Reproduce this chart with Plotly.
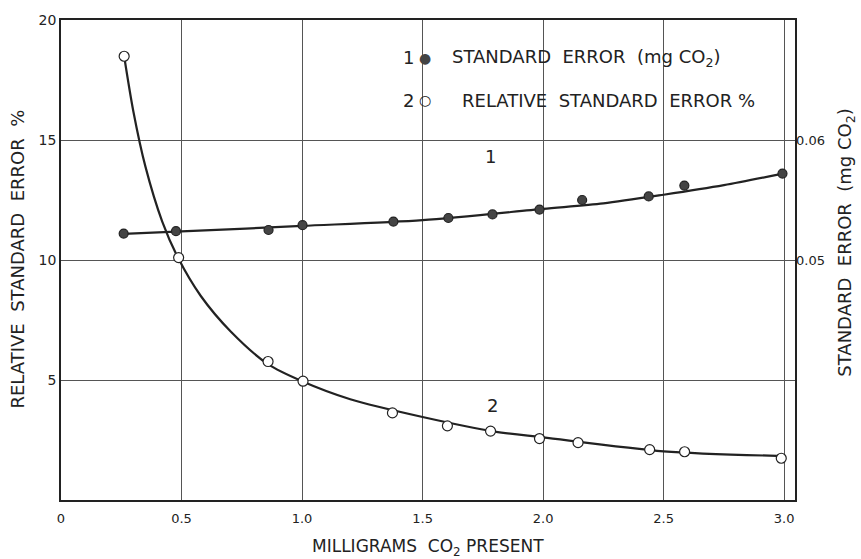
import plotly.graph_objects as go

# ---- data ----
# Curve 1: standard error (mg CO2), right axis
mg_se = [0.260, 0.477, 0.861, 1.002, 1.379, 1.607, 1.790, 1.985, 2.162, 2.438, 2.586, 2.993]
se_mg = [0.0522, 0.0524, 0.0525, 0.0529, 0.0532, 0.0535, 0.0538, 0.0542, 0.0550, 0.0553, 0.0562, 0.0572]
se_fit_x = [0.26, 0.5, 1.0, 1.5, 2.0, 2.25, 2.5, 2.75, 3.0]
se_fit_y = [0.05218, 0.05238, 0.05284, 0.05332, 0.05426, 0.05472, 0.05544, 0.05624, 0.05722]

# Curve 2: relative standard error %, left axis
mg_rse = [0.262, 0.488, 0.859, 1.004, 1.375, 1.603, 1.782, 1.985, 2.145, 2.442, 2.587, 2.988]
rse_pct = [18.49, 10.10, 5.77, 4.95, 3.63, 3.09, 2.87, 2.56, 2.39, 2.10, 2.01, 1.74]
rse_fit_x = [0.262, 0.30, 0.35, 0.42, 0.485, 0.58, 0.705, 0.86, 1.0, 1.2, 1.5, 1.8, 2.0, 2.5, 2.97]
rse_fit_y = [18.49, 16.2, 13.9, 11.6, 10.1, 8.5, 7.01, 5.65, 4.95, 4.2, 3.46, 2.85, 2.61, 2.03, 1.84]

x_ticks = [0, 0.5, 1.0, 1.5, 2.0, 2.5, 3.0]
x_ticktext = ["0", "0.5", "1.0", "1.5", "2.0", "2.5", "3.0"]
y_ticks = [5, 10, 15, 20]
y2_ticks = [0.05, 0.06]

INK = "#222222"
GRID = "#555555"
FONT = "DejaVu Sans"

fig = go.Figure()

fig.add_trace(go.Scatter(x=se_fit_x, y=se_fit_y, yaxis="y2", mode="lines",
                         line=dict(color=INK, width=2.2, shape="spline", smoothing=0.8),
                         showlegend=False, hoverinfo="skip"))
fig.add_trace(go.Scatter(x=mg_se, y=se_mg, yaxis="y2", mode="markers",
                         marker=dict(color="#444444", size=9, line=dict(color=INK, width=1.2)),
                         name="STANDARD ERROR (mg CO2)", showlegend=False))
fig.add_trace(go.Scatter(x=rse_fit_x, y=rse_fit_y, mode="lines",
                         line=dict(color=INK, width=2.2, shape="spline", smoothing=0.8),
                         showlegend=False, hoverinfo="skip"))
fig.add_trace(go.Scatter(x=mg_rse, y=rse_pct, mode="markers",
                         marker=dict(color="white", size=10, line=dict(color=INK, width=1.2)),
                         name="RELATIVE STANDARD ERROR %", showlegend=False))


def px(xp):
    return (xp - 61) / 734


def py(yp):
    return (500 - yp) / 485


fig.update_layout(
    width=861, height=559,
    margin=dict(l=61, r=66, t=15, b=59),
    paper_bgcolor="white", plot_bgcolor="white",
    font=dict(family=FONT, color=INK, size=13),
    xaxis=dict(range=[0, 3.045], tickvals=x_ticks, ticktext=x_ticktext,
               showgrid=True, gridcolor=GRID, gridwidth=1,
               showline=True, linecolor=INK, linewidth=1.5, mirror=True,
               ticks="", zeroline=False, tickfont=dict(size=13), ticklabelstandoff=6),
    yaxis=dict(range=[0, 20], tickvals=y_ticks,
               showgrid=True, gridcolor=GRID, gridwidth=1,
               showline=True, linecolor=INK, linewidth=1.5, mirror=True,
               ticks="", zeroline=False, tickfont=dict(size=14)),
    yaxis2=dict(range=[0.03, 0.07], tickvals=y2_ticks, tickformat=".2f",
                overlaying="y", side="right", showgrid=False, zeroline=False,
                showline=False, ticks="", tickfont=dict(size=13)),
    shapes=[dict(type="rect", xref="paper", yref="paper",
                 x0=px(380), x1=px(781), y0=py(124), y1=py(26),
                 fillcolor="white", line=dict(width=0), layer="between")],
    annotations=[
        dict(text="1", xref="paper", yref="paper", x=px(408), y=py(53),
             xanchor="center", yanchor="middle", showarrow=False, font=dict(size=18)),
        dict(text="\u25CF", xref="paper", yref="paper", x=px(425), y=py(53),
             xanchor="center", yanchor="middle", showarrow=False, font=dict(size=14, color="#444444")),
        dict(text="STANDARD  ERROR  (mg CO<sub>2</sub>)", xref="paper", yref="paper",
             x=px(450), y=py(53), xanchor="left", yanchor="middle",
             showarrow=False, font=dict(size=18)),
        dict(text="2", xref="paper", yref="paper", x=px(408), y=py(96),
             xanchor="center", yanchor="middle", showarrow=False, font=dict(size=18)),
        dict(text="\u25CB", xref="paper", yref="paper", x=px(425), y=py(96),
             xanchor="center", yanchor="middle", showarrow=False, font=dict(size=14)),
        dict(text="RELATIVE  STANDARD  ERROR %", xref="paper", yref="paper",
             x=px(460), y=py(96), xanchor="left", yanchor="middle",
             showarrow=False, font=dict(size=18)),
        dict(text="1", x=1.78, y=14.3, xref="x", yref="y", showarrow=False, font=dict(size=18)),
        dict(text="2", x=1.79, y=3.92, xref="x", yref="y", showarrow=False, font=dict(size=18)),
        dict(text="RELATIVE  STANDARD  ERROR  %", xref="paper", yref="paper",
             x=px(18), y=py(257), xanchor="center", yanchor="middle",
             textangle=-90, showarrow=False, font=dict(size=18)),
        dict(text="STANDARD  ERROR  (mg CO<sub>2</sub>)", xref="paper", yref="paper",
             x=px(846), y=py(240), xanchor="center", yanchor="middle",
             textangle=-90, showarrow=False, font=dict(size=18)),
        dict(text="MILLIGRAMS  CO<sub>2</sub> PRESENT", xref="paper", yref="paper",
             x=px(428), y=py(548), xanchor="center", yanchor="middle",
             showarrow=False, font=dict(size=17)),
    ],
)

fig.write_html("out.html")
